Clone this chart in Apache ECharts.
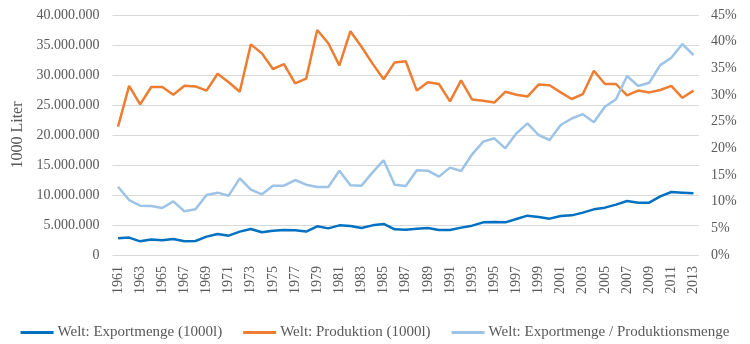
<!DOCTYPE html>
<html><head><meta charset="utf-8">
<script src="https://cdn.jsdelivr.net/npm/echarts@6/dist/echarts.min.js"></script>
<style>html,body{margin:0;padding:0;background:#fff}#c{width:750px;height:344px}</style>
</head><body><div id="c"></div>
<script>
const years = [];
for (let y = 1961; y <= 2013; y++) years.push(String(y));
// Values in million liters (1000 l units * 1e6 / 1000)
const exportMio = [2.78,2.9,2.28,2.6,2.45,2.67,2.28,2.33,3.06,3.5,3.22,3.9,4.33,3.78,4.06,4.17,4.11,3.9,4.78,4.44,4.94,4.83,4.5,4.94,5.17,4.28,4.22,4.39,4.5,4.17,4.17,4.56,4.89,5.44,5.5,5.44,6.0,6.56,6.33,6.06,6.5,6.61,7.06,7.61,7.89,8.39,9.0,8.72,8.72,9.78,10.5,10.39,10.28];
const prodMio = [21.4,28.2,25.1,28.0,28.0,26.7,28.2,28.1,27.4,30.2,28.8,27.2,35.1,33.6,31.0,31.8,28.6,29.4,37.5,35.3,31.6,37.3,34.7,31.9,29.3,32.1,32.3,27.4,28.8,28.5,25.6,29.1,25.9,25.7,25.4,27.2,26.7,26.4,28.4,28.3,27.1,26.0,26.8,30.7,28.5,28.5,26.6,27.4,27.1,27.5,28.2,26.2,27.4];
const ratioPct = [12.8,10.3,9.25,9.19,8.81,10.06,8.19,8.56,11.25,11.69,11.12,14.38,12.25,11.38,13.0,13.0,14.06,13.19,12.75,12.75,15.81,13.06,13.0,15.5,17.75,13.19,12.94,15.88,15.81,14.69,16.38,15.75,18.88,21.25,21.88,20.0,22.81,24.69,22.5,21.56,24.38,25.6,26.4,24.9,27.8,29.2,33.56,31.69,32.3,35.6,37.0,39.56,37.5];
const seriesNames = ['Welt: Exportmenge (1000l)','Welt: Produktion (1000l)','Welt: Exportmenge / Produktionsmenge'];

const exportData = exportMio.map(v => Math.round(v * 1e6));
const prodData = prodMio.map(v => Math.round(v * 1e6));
const ratioData = ratioPct.map(v => v / 100);

const font = 'Liberation Serif, Times New Roman, serif';
const txt = '#595959';
function fmtDots(v){ return String(Math.round(v)).replace(/\B(?=(\d{3})+(?!\d))/g, '.'); }

const chart = echarts.init(document.getElementById('c'), null, {renderer:'canvas'});
chart.setOption({
  animation:false,
  backgroundColor:'#fff',
  grid:{left:112.5, right:51, top:15, bottom:89, containLabel:false},
  legend:{
    top:320, left:'center', itemWidth:33, itemHeight:3, itemGap:21,
    icon:'rect',
    textStyle:{fontFamily:font, fontSize:15, color:txt, padding:[0,0,0,-1]},
    data:seriesNames
  },
  xAxis:{
    type:'category', data:years, boundaryGap:true,
    axisLine:{show:false}, axisTick:{show:false},
    axisLabel:{interval:1, rotate:90, fontFamily:font, fontSize:14, color:txt, margin:11}
  },
  yAxis:[{
    type:'value', min:0, max:40000000, interval:5000000,
    name:'1000 Liter', nameLocation:'middle', nameGap:86,
    nameTextStyle:{fontFamily:font, fontSize:16, color:txt},
    axisLine:{show:false}, axisTick:{show:false},
    splitLine:{lineStyle:{color:'#d9d9d9', width:1}},
    axisLabel:{fontFamily:font, fontSize:14, color:txt, margin:13, formatter:fmtDots}
  },{
    type:'value', min:0, max:0.45, interval:0.05,
    axisLine:{show:false}, axisTick:{show:false}, splitLine:{show:false},
    axisLabel:{fontFamily:font, fontSize:14, color:txt, margin:12,
      formatter:v => Math.round(v*100) + '%'}
  }],
  series:[
    {name:seriesNames[0], type:'line', data:exportData, yAxisIndex:0, symbol:'none',
     lineStyle:{color:'#0070C0', width:2.5}, itemStyle:{color:'#0070C0'}},
    {name:seriesNames[1], type:'line', data:prodData, yAxisIndex:0, symbol:'none',
     lineStyle:{color:'#ED7D31', width:2.5}, itemStyle:{color:'#ED7D31'}},
    {name:seriesNames[2], type:'line', data:ratioData, yAxisIndex:1, symbol:'none',
     lineStyle:{color:'#9DC3E6', width:2.5}, itemStyle:{color:'#9DC3E6'}}
  ]
});
</script></body></html>
